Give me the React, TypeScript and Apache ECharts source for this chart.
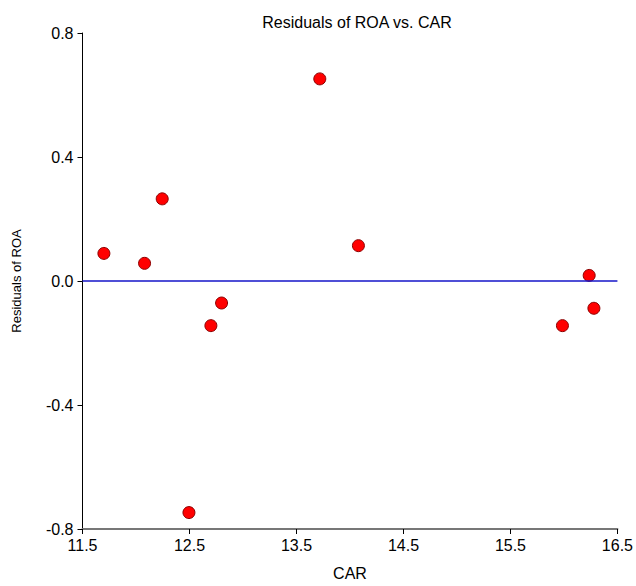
import React, { useEffect, useRef } from "react";
import * as echarts from "echarts";

const carValues = [11.70, 12.08, 12.245, 12.495, 12.70, 12.80, 13.718, 14.079, 15.986, 16.236, 16.28];
const residualValues = [0.089, 0.057, 0.265, -0.747, -0.144, -0.071, 0.652, 0.114, -0.144, 0.018, -0.088];
const xTickLabels = ["11.5", "12.5", "13.5", "14.5", "15.5", "16.5"];
const yTickLabels = ["-0.8", "-0.4", "0.0", "0.4", "0.8"];

const font = "Liberation Sans, Arial, sans-serif";

export default function App() {
  const ref = useRef<HTMLDivElement>(null);
  useEffect(() => {
    if (!ref.current) return;
    const chart = echarts.init(ref.current, undefined, { renderer: "svg" });
    const points = carValues.map((x, i) => [x, residualValues[i]]);
    chart.setOption({
      animation: false,
      backgroundColor: "#ffffff",
      title: {
        text: "Residuals of ROA vs. CAR",
        left: 352,
        top: 9,
        textAlign: "center",
        textStyle: { fontFamily: font, fontSize: 16, fontWeight: "normal", color: "#000" },
      },
      grid: { left: 82.5, right: 14, top: 33, bottom: 52, containLabel: false },
      xAxis: {
        type: "value",
        min: 11.5,
        max: 16.5,
        interval: 1,
        name: "CAR",
        nameLocation: "middle",
        nameGap: 36,
        nameTextStyle: { fontFamily: font, fontSize: 16, color: "#000" },
        axisLine: { show: true, onZero: false, lineStyle: { color: "#777777", width: 2 } },
        axisTick: { show: true, length: 5, lineStyle: { color: "#000", width: 1 } },
        axisLabel: {
          fontFamily: font,
          fontSize: 16,
          color: "#000",
          margin: 8,
          formatter: (v: number) => {
            const idx = Math.round(v - 11.5);
            return xTickLabels[idx] ?? "";
          },
        },
        splitLine: { show: false },
      },
      yAxis: {
        type: "value",
        min: -0.8,
        max: 0.8,
        interval: 0.4,
        name: "Residuals of ROA",
        nameLocation: "middle",
        nameRotate: 90,
        nameGap: 60,
        nameTextStyle: { fontFamily: font, fontSize: 13, color: "#000" },
        axisLine: { show: true, onZero: false, lineStyle: { color: "#000", width: 1 } },
        axisTick: { show: true, length: 5, lineStyle: { color: "#000", width: 1 } },
        axisLabel: {
          fontFamily: font,
          fontSize: 16,
          color: "#000",
          margin: 9,
          formatter: (v: number) => {
            const idx = Math.round((v + 0.8) / 0.4);
            return yTickLabels[idx] ?? "";
          },
        },
        splitLine: { show: false },
      },
      series: [
        {
          type: "scatter",
          data: points,
          symbol: "circle",
          symbolSize: 12,
          itemStyle: { color: "#ff0000", borderColor: "#8b0000", borderWidth: 1, opacity: 1 },
          markLine: {
            silent: true,
            symbol: "none",
            label: { show: false },
            lineStyle: { color: "#1515c8", width: 1.5, type: "solid", opacity: 1 },
            data: [{ yAxis: 0 }],
          },
          z: 3,
        },
      ],
    });
    return () => chart.dispose();
  }, []);
  return (
    <div
      ref={ref}
      style={{ position: "fixed", left: 0, top: 0, width: 636, height: 586 }}
    />
  );
}
